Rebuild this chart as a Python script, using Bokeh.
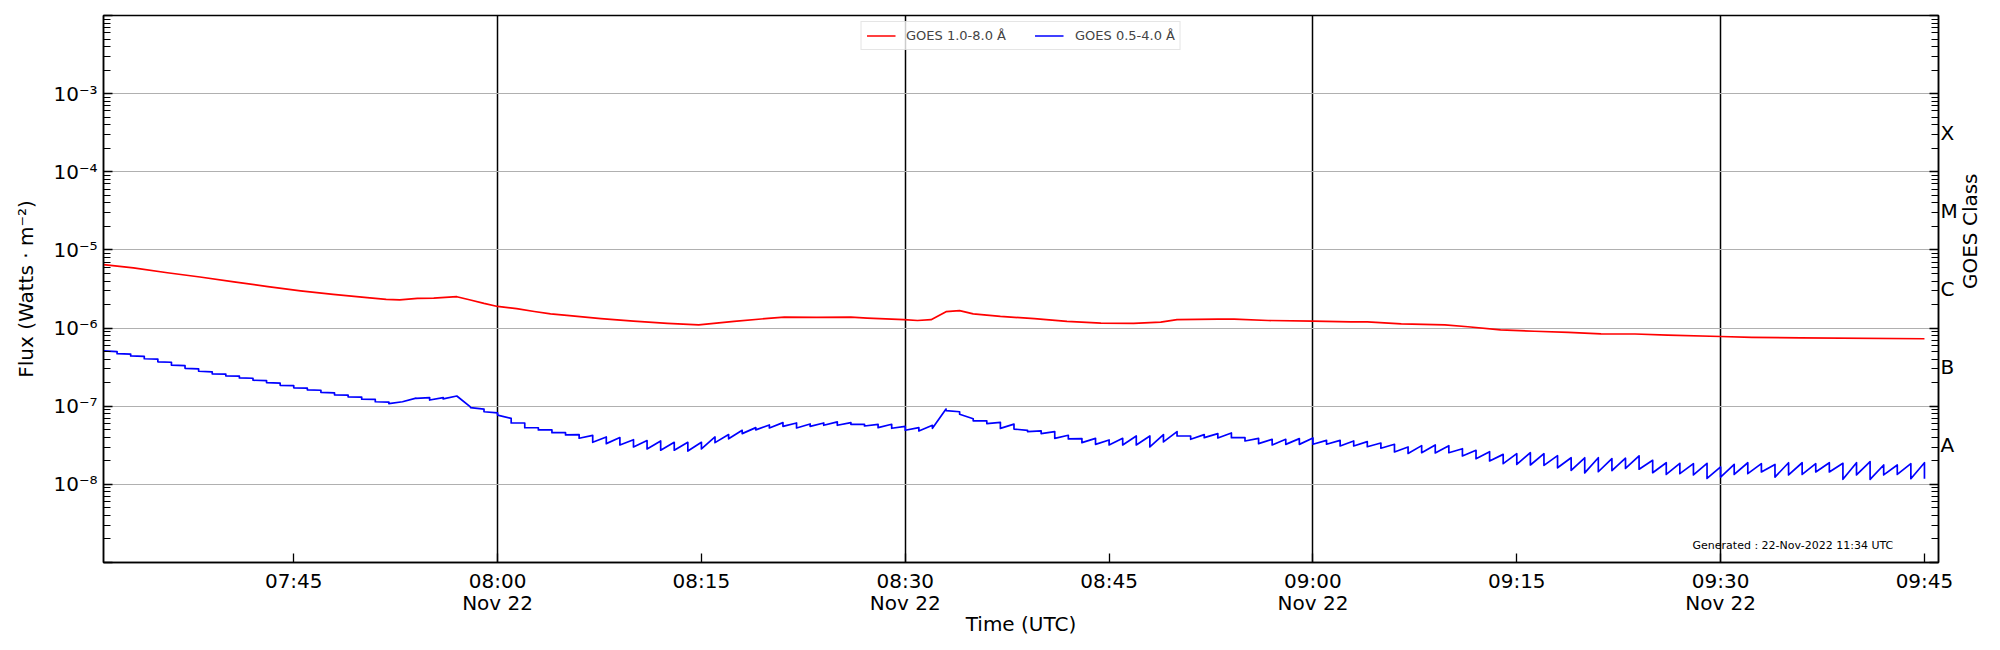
import math
import pandas as pd
from bokeh.plotting import figure
from bokeh.models import (FixedTicker, LogAxis, Legend, LegendItem, Label,
                          Range1d, CustomJSTickFormatter)
from bokeh.embed import file_html
from bokeh.resources import INLINE

# ---------------- data ----------------
DAY = "2022-11-22"
T0 = pd.Timestamp(f"{DAY} 07:31:00")
X_END = pd.Timestamp(f"{DAY} 09:46:02")

# GOES 1.0-8.0 A : minutes after 07:31 and flux (W m^-2)
RED_MIN = [0, 2.2, 4.7, 7.1, 9.6, 12.1, 14.5, 16.9, 19.4, 20.8, 21.8, 23.1, 24.3,
           26.0, 27.0, 28.0, 29.0, 30.4, 31.7, 32.9, 34.1, 36.6, 39.0, 41.5, 43.8,
           46.4, 48.9, 50.1, 52.5, 55.0, 56.2, 58.9, 59.9, 60.9, 62.0, 63.0, 64.0,
           66.0, 68.5, 70.9, 73.4, 75.8, 77.8, 79.0, 82.0, 83.2, 85.7, 89.0, 91.8,
           93.0, 95.5, 98.7, 100.4, 102.8, 105.3, 107.8, 110.2, 112.7, 115.1, 119.0,
           121.3, 124.9, 134.0]
RED_FLUX = [6.5e-6, 5.9e-6, 5.1e-6, 4.5e-6, 3.9e-6, 3.4e-6, 3.0e-6, 2.7e-6, 2.45e-6,
            2.33e-6, 2.29e-6, 2.40e-6, 2.42e-6, 2.52e-6, 2.29e-6, 2.07e-6, 1.89e-6,
            1.77e-6, 1.63e-6, 1.52e-6, 1.45e-6, 1.32e-6, 1.23e-6, 1.15e-6, 1.10e-6,
            1.22e-6, 1.33e-6, 1.38e-6, 1.37e-6, 1.38e-6, 1.34e-6, 1.28e-6, 1.25e-6,
            1.28e-6, 1.62e-6, 1.67e-6, 1.52e-6, 1.41e-6, 1.32e-6, 1.22e-6, 1.16e-6,
            1.15e-6, 1.19e-6, 1.28e-6, 1.30e-6, 1.30e-6, 1.25e-6, 1.23e-6, 1.20e-6,
            1.20e-6, 1.13e-6, 1.10e-6, 1.04e-6, 9.5e-7, 9.1e-7, 8.8e-7, 8.45e-7,
            8.4e-7, 8.1e-7, 7.8e-7, 7.6e-7, 7.5e-7, 7.3e-7]

# GOES 0.5-4.0 A : per-minute value at start of each minute (after the step)
BLUE_START = [5.1e-7, 4.7e-7, 4.4e-7, 4.05e-7, 3.7e-7, 3.35e-7, 3.05e-7, 2.8e-7, 2.6e-7, 2.45e-7,
              2.3e-7, 2.15e-7, 2.0e-7, 1.85e-7, 1.72e-7, 1.62e-7, 1.5e-7, 1.4e-7, 1.32e-7, 1.23e-7,
              1.14e-7, 1.08e-7, 1.14e-7, 1.26e-7, 1.2e-7, 1.24e-7, 1.35e-7, 9.6e-8, 8.5e-8, 7.7e-8,
              6.1e-8, 5.3e-8, 4.97e-8, 4.59e-8, 4.29e-8, 3.89e-8, 3.45e-8, 3.32e-8, 3.19e-8, 3.01e-8,
              2.84e-8, 2.73e-8, 2.73e-8, 2.67e-8, 2.84e-8, 3.42e-8, 3.83e-8, 4.46e-8, 4.98e-8, 5.27e-8,
              5.53e-8, 5.27e-8, 5.53e-8, 5.7e-8, 5.7e-8, 5.87e-8, 5.58e-8, 5.32e-8, 5.22e-8, 4.92e-8,
              4.83e-8, 5.22e-8, 8.8e-8, 7.9e-8, 6.5e-8, 6.0e-8, 5.2e-8, 5.1e-8, 4.73e-8, 4.46e-8,
              3.88e-8, 3.81e-8, 3.42e-8, 3.25e-8, 3.19e-8, 3.19e-8, 3.19e-8, 3.01e-8, 3.49e-8, 4.16e-8,
              3.77e-8, 3.96e-8, 3.92e-8, 3.96e-8, 3.59e-8, 3.32e-8, 3.19e-8, 3.25e-8, 3.25e-8, 3.26e-8,
              3.26e-8, 3.10e-8, 3.10e-8, 3.03e-8, 2.90e-8, 2.60e-8, 2.49e-8, 2.54e-8, 2.52e-8, 2.54e-8,
              2.31e-8, 2.13e-8, 1.99e-8, 1.84e-8, 1.80e-8, 1.77e-8, 1.75e-8, 1.63e-8, 1.51e-8, 1.40e-8,
              1.45e-8, 1.50e-8, 1.60e-8, 1.56e-8, 1.41e-8, 1.34e-8, 1.37e-8, 1.32e-8, 1.19e-8, 1.24e-8,
              1.34e-8, 1.37e-8, 1.44e-8, 1.24e-8, 1.32e-8, 1.34e-8, 1.44e-8, 1.44e-8, 1.16e-8, 1.32e-8,
              1.16e-8, 1.32e-8, 1.34e-8, 1.18e-8, 1.18e-8]
# value reached at the end of each minute (just before the next step)
BLUE_END = [5.0e-7, 4.65e-7, 4.35e-7, 4.0e-7, 3.65e-7, 3.3e-7, 3.0e-7, 2.75e-7, 2.58e-7, 2.42e-7,
            2.28e-7, 2.12e-7, 1.97e-7, 1.83e-7, 1.7e-7, 1.6e-7, 1.48e-7, 1.39e-7, 1.31e-7, 1.22e-7,
            1.13e-7, 1.14e-7, 1.27e-7, 1.29e-7, 1.29e-7, 1.35e-7, 9.8e-8, 9.2e-8, 8.2e-8, 7.0e-8,
            6.1e-8, 5.3e-8, 4.97e-8, 4.59e-8, 4.34e-8, 4.23e-8, 4.04e-8, 3.97e-8, 3.73e-8, 3.63e-8,
            3.59e-8, 3.45e-8, 3.45e-8, 3.45e-8, 4.04e-8, 4.34e-8, 4.92e-8, 5.32e-8, 5.75e-8, 6.17e-8,
            6.1e-8, 5.93e-8, 6.1e-8, 6.3e-8, 6.17e-8, 5.87e-8, 5.87e-8, 5.87e-8, 5.53e-8, 5.32e-8,
            5.7e-8, 9.2e-8, 8.5e-8, 6.9e-8, 6.5e-8, 6.2e-8, 5.9e-8, 4.9e-8, 4.83e-8, 4.73e-8,
            4.25e-8, 3.85e-8, 3.88e-8, 3.70e-8, 3.88e-8, 4.16e-8, 4.16e-8, 4.33e-8, 4.73e-8, 4.16e-8,
            4.33e-8, 4.46e-8, 4.55e-8, 3.96e-8, 3.88e-8, 3.77e-8, 3.77e-8, 3.85e-8, 3.92e-8, 3.66e-8,
            3.66e-8, 3.59e-8, 3.52e-8, 3.38e-8, 3.26e-8, 3.01e-8, 3.13e-8, 3.19e-8, 3.13e-8, 2.86e-8,
            2.73e-8, 2.62e-8, 2.42e-8, 2.47e-8, 2.54e-8, 2.47e-8, 2.33e-8, 2.19e-8, 2.19e-8, 2.19e-8,
            2.14e-8, 2.16e-8, 2.31e-8, 2.03e-8, 1.89e-8, 1.86e-8, 1.84e-8, 1.86e-8, 1.67e-8, 1.80e-8,
            1.89e-8, 1.84e-8, 1.80e-8, 1.89e-8, 1.89e-8, 1.84e-8, 1.89e-8, 1.86e-8, 1.89e-8, 1.95e-8,
            1.77e-8, 1.77e-8, 1.84e-8, 1.89e-8]

X_TICKS = ["07:45", "08:00", "08:15", "08:30", "08:45", "09:00", "09:15", "09:30", "09:45"]
X_TICK_LABELS = ["07:45", "08:00\nNov 22", "08:15", "08:30\nNov 22", "08:45",
                 "09:00\nNov 22", "09:15", "09:30\nNov 22", "09:45"]
DAY_LINES = ["08:00", "08:30", "09:00", "09:30"]
DECADES = [1e-9, 1e-8, 1e-7, 1e-6, 1e-5, 1e-4, 1e-3, 1e-2]
Y_TICKS = [1e-8, 1e-7, 1e-6, 1e-5, 1e-4, 1e-3]
Y_TICK_LABELS = ["10⁻⁸", "10⁻⁷", "10⁻⁶", "10⁻⁵", "10⁻⁴", "10⁻³"]
MANTISSAS = [2, 3, 4, 5, 6, 7, 8, 9]
CLASS_POS = [10 ** -7.5, 10 ** -6.5, 10 ** -5.5, 10 ** -4.5, 10 ** -3.5]
CLASS_LABELS = ["A", "B", "C", "M", "X"]
GENERATED = "Generated : 22-Nov-2022 11:34 UTC"

FONT = "DejaVu Sans"


def ms(hhmm):
    return pd.Timestamp(f"{DAY} {hhmm}:00").value / 1e6


red_t = T0 + pd.to_timedelta(RED_MIN, unit="min")

bm, bv = [], []
for i in range(len(BLUE_END)):
    bm += [i, i + 1]
    bv += [BLUE_START[i], BLUE_END[i]]
bm.append(len(BLUE_END))
bv.append(BLUE_START[len(BLUE_END)])
blue_t = T0 + pd.to_timedelta(bm, unit="min")

MINOR = [m * d for d in DECADES[:-1] for m in MANTISSAS]

LOOKUP = """let b=-1, bd=0.25;
for (let i=0;i<tv.length;i++){const d=Math.abs(Math.log10(tv[i])-Math.log10(tick)); if(d<bd){bd=d;b=i;}}
return b<0 ? "" : tl[b];"""

p = figure(width=1996, height=646, x_axis_type="datetime", y_axis_type="log",
           x_range=Range1d(T0, X_END), y_range=Range1d(1e-9, 1e-2),
           output_backend="svg", toolbar_location=None,
           min_border_left=103, min_border_right=53, min_border_top=15, min_border_bottom=84)

p.outline_line_color = "black"
p.outline_line_width = 1.5
p.background_fill_color = "white"

r_red = p.line(red_t, RED_FLUX, line_color="red", line_width=1.7, line_join="round")
r_blue = p.line(blue_t, bv, line_color="blue", line_width=1.7, line_join="round")

# x axis
xa = p.xaxis[0]
xa.ticker = FixedTicker(ticks=[ms(t) for t in X_TICKS])
xa.formatter = CustomJSTickFormatter(
    args=dict(tv=[ms(t) for t in X_TICKS], tl=X_TICK_LABELS),
    code="""let b=0, bd=Infinity;
for (let i=0;i<tv.length;i++){const d=Math.abs(tv[i]-tick); if(d<bd){bd=d;b=i;}}
return tl[b];""")
xa.axis_label = "Time (UTC)"

# left y axis: a tick at every decade, minor ticks at 2..9
ya = p.yaxis[0]
ya.ticker = FixedTicker(ticks=DECADES, minor_ticks=MINOR)
ya.formatter = CustomJSTickFormatter(args=dict(tv=Y_TICKS, tl=Y_TICK_LABELS), code=LOOKUP)
ya.axis_label = "Flux (Watts · m⁻²)"

# right side: tick marks only, then class letters outside
rt = LogAxis(ticker=FixedTicker(ticks=DECADES, minor_ticks=MINOR),
             formatter=CustomJSTickFormatter(code='return "";'))
p.add_layout(rt, "right")
rc = LogAxis(ticker=FixedTicker(ticks=CLASS_POS),
             formatter=CustomJSTickFormatter(args=dict(tv=CLASS_POS, tl=CLASS_LABELS), code=LOOKUP),
             axis_label="GOES Class")
p.add_layout(rc, "right")

for ax in (xa, ya, rt, rc):
    ax.axis_line_color = "black"
    ax.axis_line_width = 1.5
    ax.major_tick_in = 9
    ax.major_tick_out = 0
    ax.minor_tick_in = 7
    ax.minor_tick_out = 0
    ax.major_tick_line_color = "black"
    ax.minor_tick_line_color = "black"
    ax.major_tick_line_width = 1.3
    ax.minor_tick_line_width = 1.1
    ax.major_label_text_font = FONT
    ax.major_label_text_font_size = "20px"
    ax.major_label_text_color = "black"
    ax.axis_label_text_font = FONT
    ax.axis_label_text_font_size = "20px"
    ax.axis_label_text_font_style = "normal"
    ax.axis_label_text_color = "black"

xa.minor_tick_in = 0
xa.major_label_standoff = 6
xa.major_label_text_line_height = 0.95
xa.axis_label_standoff = -6
ya.major_label_standoff = 6
ya.axis_label_standoff = 12

rt.major_label_standoff = 0
rt.major_label_text_font_size = "0px"
rc.axis_line_color = None
rc.major_tick_in = 0
rc.minor_tick_in = 0
rc.major_label_standoff = 2
rc.axis_label_standoff = 9
for orient in (math.pi / 2, "vertical"):
    try:
        rc.axis_label_orientation = orient
        break
    except Exception:
        pass

# grids
p.ygrid.ticker = FixedTicker(ticks=Y_TICKS)
p.ygrid.grid_line_color = "#b0b0b0"
p.ygrid.grid_line_width = 1.2
p.xgrid.ticker = FixedTicker(ticks=[ms(t) for t in DAY_LINES])
p.xgrid.grid_line_color = "black"
p.xgrid.grid_line_width = 1.5

legend = Legend(items=[LegendItem(label="GOES 1.0-8.0 Å", renderers=[r_red]),
                       LegendItem(label="GOES 0.5-4.0 Å", renderers=[r_blue])],
                location="top_center", orientation="horizontal",
                margin=6, padding=5, spacing=29, label_standoff=11,
                glyph_width=29, glyph_height=17, label_height=17,
                label_text_font=FONT, label_text_font_size="13px",
                border_line_color="#cccccc", border_line_width=1.2,
                background_fill_alpha=0.8)
p.add_layout(legend)

p.add_layout(Label(x=T0 + pd.Timedelta(minutes=131.7), y=1.67e-9, text=GENERATED,
                   text_align="right", text_baseline="middle",
                   text_font=FONT, text_font_size="11px", text_color="black"))

open("out.html", "w").write(file_html(p, INLINE))
